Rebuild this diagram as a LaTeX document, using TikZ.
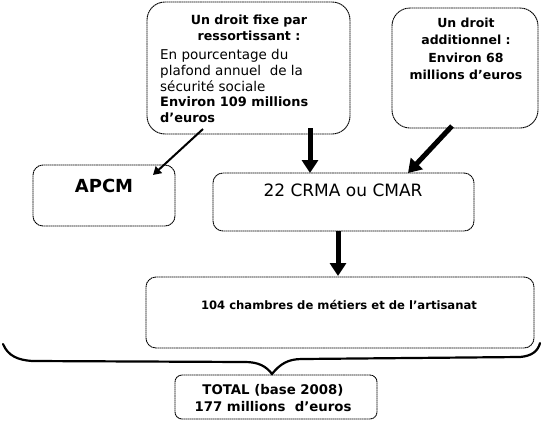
\documentclass[tikz,border=0pt]{standalone}
\usepackage{fontspec}
\setmainfont{DejaVu Sans}
\usetikzlibrary{arrows.meta}
\tikzset{
  box/.style={draw, dash pattern=on 1.6pt off 0.5pt, line width=0.9pt, rounded corners=#1, inner sep=0pt},
  box/.default=10pt,
  bigarrow/.style={line width=5pt, -{Triangle[length=13pt,width=16pt]}},
  thinarrow/.style={line width=2pt, -{Triangle[length=8pt,width=9pt]}},
  txt/.style={inner sep=0pt, align=center},
}
\begin{document}
\begin{tikzpicture}[x=1pt,y=-1pt]
\useasboundingbox (0,0) rectangle (544,421);
% boxes
\node[box=18pt, minimum width=203pt, minimum height=132pt] (fixe) at (248.5,68) {};
\node[box=18pt, minimum width=146pt, minimum height=120pt] (add) at (465,68) {};
\node[box, minimum width=142pt, minimum height=61pt] (apcm) at (104,195.5) {};
\node[box, minimum width=261pt, minimum height=58pt] (crma) at (343.5,202) {};
\node[box, minimum width=388pt, minimum height=71pt] (cma) at (340,312.5) {};
\node[box=7pt, minimum width=202pt, minimum height=44pt] (total) at (276,397) {};
% texts
\node[txt, font=\fontsize{12.6}{16}\selectfont\bfseries] (fixeh) at (249,28) {Un droit fixe par\\ressortissant :};
\node[txt, anchor=west, align=left, font=\fontsize{13.5}{16}\selectfont] (fixer) at (160,70) {En pourcentage du\\plafond annuel\ \ de la\\sécurité sociale};
\node[txt, anchor=west, align=left, font=\fontsize{12.9}{16}\selectfont\bfseries] (fixeb) at (160,110) {Environ 109 millions\\d’euros};
\node[txt, font=\fontsize{12.5}{17.5}\selectfont\bfseries] (addt) at (466,49) {Un droit\\additionnel :\\Environ 68\\millions d’euros};
\node[txt, font=\fontsize{18}{20}\selectfont\bfseries] (apcmt) at (104,186) {APCM};
\node[txt, font=\fontsize{17}{20}\selectfont] (crmat) at (343,190) {22 CRMA ou CMAR};
\node[txt, font=\fontsize{11.6}{14}\selectfont\bfseries] (cmat) at (339,305) {104 chambres de métiers et de l’artisanat};
\node[txt, font=\fontsize{13.3}{17}\selectfont\bfseries] (totalt) at (273,398.5) {TOTAL (base 2008)\\177 millions\ \ d’euros};
% arrows
\coordinate (a1s) at (203,129);
\coordinate (a1e) at (153,175);
\draw[thinarrow] (a1s) -- (a1e);
\coordinate (a2s) at (310,128);
\coordinate (a2e) at (310,173);
\draw[bigarrow] (a2s) -- (a2e);
\coordinate (a3s) at (452,126);
\coordinate (a3e) at (408,173);
\draw[bigarrow] (a3s) -- (a3e);
\coordinate (a4s) at (338,231);
\coordinate (a4e) at (338,276);
\draw[bigarrow] (a4s) -- (a4e);
% brace
\coordinate (bl) at (3,344);
\coordinate (br) at (540,343);
\coordinate (tip) at (272,374);
\draw[line width=2.2pt, line cap=round]
  (bl) .. controls (8,356) and (18,360) .. (32,361)
  -- (245,362) .. controls (258,362) and (266,366) .. (tip)
  .. controls (280,364) and (288,359) .. (302,359)
  -- (520,357) .. controls (532,356) and (538,351) .. (br);
\end{tikzpicture}
\end{document}
